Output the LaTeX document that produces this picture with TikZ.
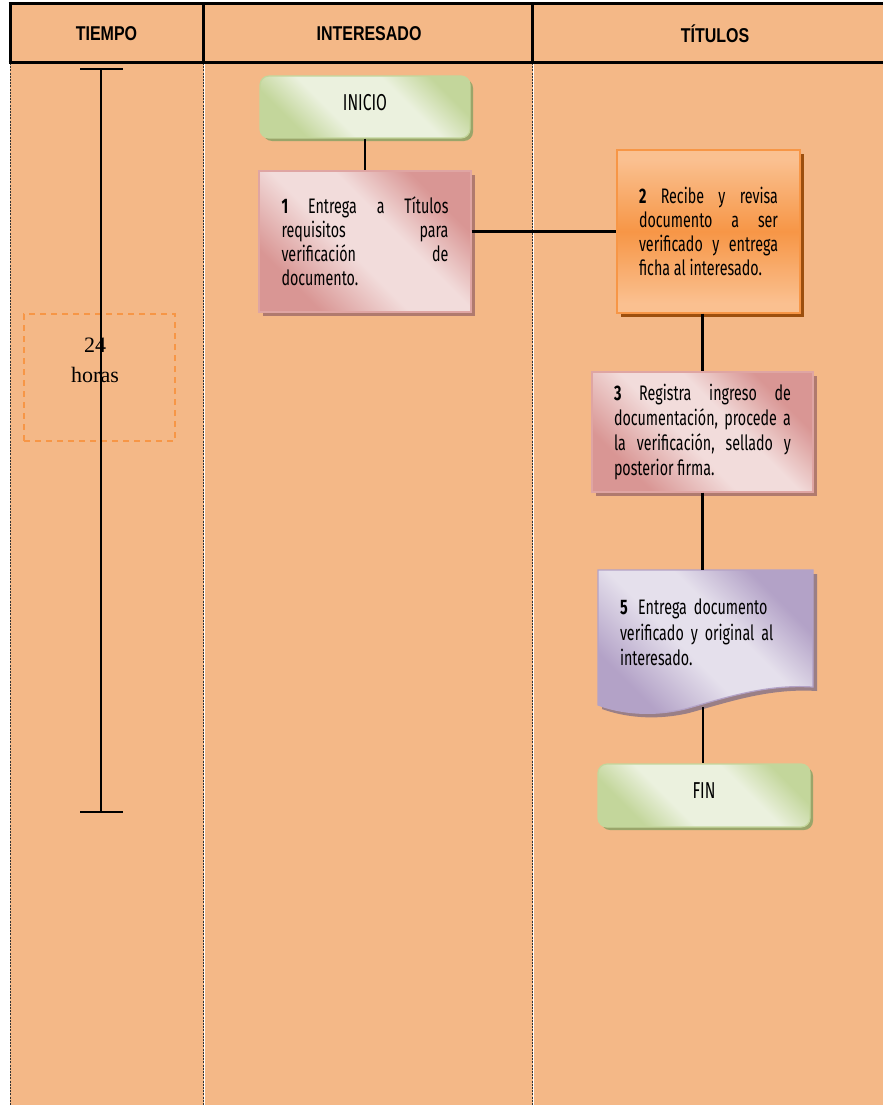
\documentclass[tikz,border=0pt]{standalone}
\usepackage{fontspec}
\usetikzlibrary{shadows}
\newfontfamily\agency[FakeStretch=0.68]{Fira Sans}
\newfontfamily\hdrfont[FakeStretch=0.8]{Liberation Sans}
\newfontfamily\tnr{Liberation Serif}
\definecolor{bg}{HTML}{F4B887}
\definecolor{pinkD}{HTML}{D99694}
\definecolor{pinkL}{HTML}{F2DCDB}
\definecolor{pinkB}{HTML}{DFA5A3}
\definecolor{pinkS}{HTML}{B07A6E}
\definecolor{orD}{HTML}{F79646}
\definecolor{orL}{HTML}{FAC090}
\definecolor{orB}{HTML}{F79646}
\definecolor{orS}{HTML}{9C4F0E}
\definecolor{grD}{HTML}{C3D69B}
\definecolor{grL}{HTML}{EBF1DE}
\definecolor{grS}{HTML}{9AA56A}
\definecolor{puD}{HTML}{B3A2C7}
\definecolor{puL}{HTML}{E5E0EC}
\definecolor{puS}{HTML}{9A7F86}
\definecolor{dashor}{HTML}{F79646}
\pgfdeclarehorizontalshading{pinkdiag}{100bp}{color(0bp)=(pinkD); color(27bp)=(pinkD); color(45bp)=(pinkL); color(58bp)=(pinkL); color(73bp)=(pinkD); color(100bp)=(pinkD)}
\pgfdeclarehorizontalshading{greendiag}{100bp}{color(0bp)=(grD); color(27bp)=(grD); color(40bp)=(grL); color(62bp)=(grL); color(75bp)=(grD); color(100bp)=(grD)}
\pgfdeclarehorizontalshading{purplediag}{100bp}{color(0bp)=(puD); color(27bp)=(puD); color(45bp)=(puL); color(58bp)=(puL); color(73bp)=(puD); color(100bp)=(puD)}
\pgfdeclareverticalshading{orangev}{100bp}{color(0bp)=(orL); color(28bp)=(orL); color(50bp)=(orD); color(72bp)=(orL); color(100bp)=(orL)}
\tikzset{
  hdrtext/.style={font=\hdrfont\bfseries\fontsize{20}{22}\selectfont, inner sep=0pt},
  frameline/.style={line width=3pt, black},
  laneline/.style={line width=0.8pt, black!80, dash pattern=on 2pt off 1.2pt},
  laneshine/.style={line width=0.8pt, white},
  conn/.style={line width=2.6pt, black},
  tline/.style={line width=2.2pt, black},
  boxtext/.style={font=\agency\fontsize{21}{24}\selectfont, inner sep=0pt, align=justify},
  pinkbox/.style={boxtext, draw=pinkB, line width=1.2pt, shade, shading=pinkdiag, shading angle=45,
    drop shadow={shadow xshift=4pt, shadow yshift=-4pt, fill=pinkS, opacity=1}},
  orangebox/.style={boxtext, draw=orB, line width=1.2pt, shade, shading=orangev,
    drop shadow={shadow xshift=4pt, shadow yshift=-4pt, fill=orS, opacity=1}},
  termbox/.style={draw=grD, line width=1.2pt, shade, shading=greendiag, shading angle=45, rounded corners=9pt,
    drop shadow={shadow xshift=3pt, shadow yshift=-3pt, fill=grS, opacity=1},
    font=\agency\fontsize{23}{24}\selectfont, inner sep=0pt},
  hourbox/.style={draw=dashor, line width=2pt, dash pattern=on 6pt off 5pt, inner sep=0pt},
}
\begin{document}
\begin{tikzpicture}[x=1pt,y=-1pt]
\useasboundingbox (0,0) rectangle (883,1105);
% background
\fill[bg] (10,4) rectangle (883,1105);
% lane separators below header
\draw[laneshine] (8.6,63) -- (8.6,1105);
\draw[laneline] (10,63) -- (10,1105);
\draw[laneshine] (204.6,63) -- (204.6,1105);
\draw[laneline] (203,63) -- (203,1105);
\draw[laneshine] (533.6,63) -- (533.6,1105);
\draw[laneline] (532,63) -- (532,1105);
% header frame
\draw[frameline] (8.5,4) -- (883,4);
\draw[frameline] (8.5,63) -- (883,63);
\draw[frameline] (10,4) -- (10,63);
\draw[frameline] (203,4) -- (203,63);
\draw[frameline] (532,4) -- (532,63);
\node[hdrtext] (h1) at (106.5,34) {TIEMPO};
\node[hdrtext] (h2) at (369,34) {INTERESADO};
\node[hdrtext] (h3) at (715,34) {TÍTULOS};

% time line
\coordinate (t1) at (101,69);
\coordinate (t2) at (101,812);
\coordinate (t1l) at (80,69);
\coordinate (t1r) at (123,69);
\coordinate (t2l) at (80,812);
\coordinate (t2r) at (123,812);
\node[hourbox, minimum width=151pt, minimum height=127pt] (hb) at (99.5,377.5) {};
\draw[tline] (t1) -- (t2);
\draw[tline] (t1l) -- (t1r);
\draw[tline] (t2l) -- (t2r);
\node[font=\tnr\fontsize{22}{30}\selectfont, align=center, inner sep=0pt] (hrs) at (95,360) {24\\horas};

% boxes
\node[termbox, minimum width=210pt, minimum height=62pt] (ini) at (365,107) {\raisebox{9pt}{INICIO}};
\node[pinkbox, minimum width=212pt, minimum height=141pt, text width=167pt] (b1) at (365,241.5)
  {{\bfseries 1}\hfill Entrega\hfill a\hfill Títulos\\ requisitos\hfill para\\ verificación\hfill de\\ documento.};
\node[orangebox, minimum width=183pt, minimum height=163pt, text width=139pt] (b2) at (708.5,231.5)
  {{\bfseries 2}\hfill Recibe\hfill y\hfill revisa\\ documento\hfill a\hfill ser\\ verificado\hfill y\hfill entrega\\ ficha al interesado.};
\node[pinkbox, minimum width=221pt, minimum height=120pt, text width=177pt, font=\agency\fontsize{21}{24.7}\selectfont] (b3) at (702.5,432)
  {{\bfseries 3}\hfill Registra\hfill ingreso\hfill de\\ documentación,\hfill procede\hfill a\\ la\hfill verificación,\hfill sellado\hfill y\\ posterior firma.};

% document shape (step 5)
\begin{scope}[shift={(4,4)}]
\fill[puS] (598,570) -- (813,570) -- (813,687) .. controls (765,684) and (725,698) .. (685,709) .. controls (650,717) and (620,713) .. (598,705) -- cycle;
\end{scope}
\path[draw=puD, line width=1.2pt, shade, shading=purplediag, shading angle=45]
  (598,570) -- (813,570) -- (813,687) .. controls (765,684) and (725,698) .. (685,709) .. controls (650,717) and (620,713) .. (598,705) -- cycle;
\node[boxtext, align=left, text width=175pt, minimum width=215pt, minimum height=125pt, font=\agency\fontsize{21}{25.5}\selectfont] (d5) at (707.5,632.5)
  {{\bfseries 5}\, Entrega documento\\ verificado y original al\\ interesado.};
\coordinate (d5b) at (703,707);

\node[termbox, minimum width=212pt, minimum height=63pt] (fin) at (704,795.5) {\raisebox{9pt}{FIN}};

% connectors
\draw[conn] (ini.south) -- (b1.north);
\draw[conn] (b1.east |- b2.west) -- (b2.west);
\draw[conn] (b2.south -| b3.north) -- (b3.north);
\draw[conn] (b3.south) -- (b3.south |- d5.north);
\draw[conn] (d5b) -- (d5b |- fin.north);
\end{tikzpicture}
\end{document}
